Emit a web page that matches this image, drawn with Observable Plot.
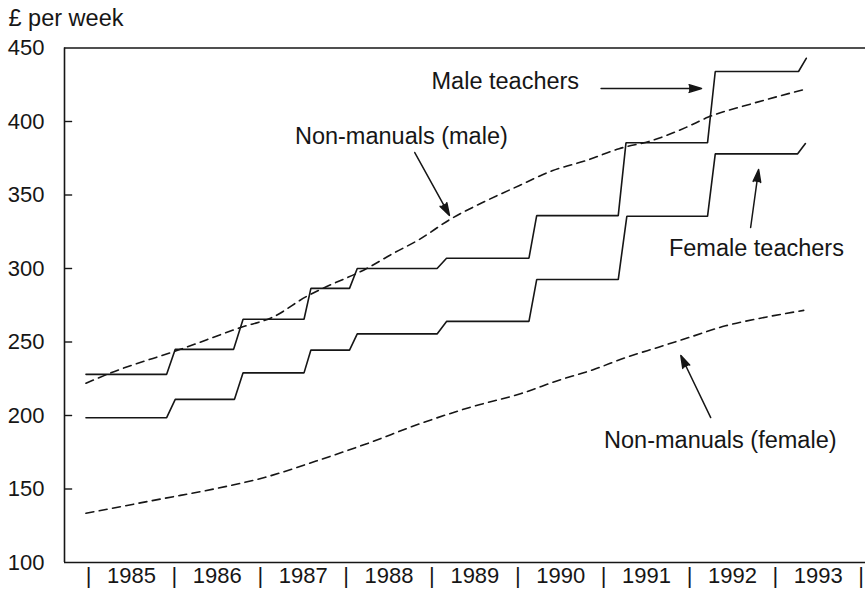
<!DOCTYPE html>
<html>
<head>
<meta charset="utf-8">
<script src="https://cdn.jsdelivr.net/npm/d3@7"></script>
<script src="https://cdn.jsdelivr.net/npm/@observablehq/plot@0.6"></script>
<style>
  body { margin: 0; background: #fff; }
  #chart { width: 865px; height: 589px; }
</style>
</head>
<body>
<div id="chart"></div>
<script>
// ---- Data (decimal years, £ per week) ----
const maleTeachersT = [1984.97, 1985.91, 1986.01, 1986.69, 1986.80, 1987.51, 1987.59, 1988.04, 1988.13, 1989.06, 1989.17, 1990.13, 1990.22, 1991.17, 1991.26, 1992.21, 1992.30, 1993.27, 1993.36];
const maleTeachersV = [228, 228, 245, 245, 265.5, 265.5, 286.5, 286.5, 300, 300, 307, 307, 336, 336, 385.5, 385.5, 434, 434, 443];

const femaleTeachersT = [1984.97, 1985.91, 1986.01, 1986.70, 1986.80, 1987.51, 1987.59, 1988.04, 1988.13, 1989.06, 1989.17, 1990.13, 1990.22, 1991.17, 1991.27, 1992.21, 1992.30, 1993.26, 1993.35];
const femaleTeachersV = [198.5, 198.5, 211, 211, 229, 229, 244.5, 244.5, 255.5, 255.5, 264, 264, 292.5, 292.5, 335.5, 335.5, 378, 378, 385];

const nonManualMaleT = [1984.97, 1985.26, 1986.07, 1986.78, 1987.15, 1987.54, 1987.73, 1988.24, 1988.54, 1988.86, 1989.20, 1989.63, 1990.02, 1990.40, 1990.80, 1991.18, 1991.56, 1991.96, 1992.22, 1992.72, 1993.35];
const nonManualMaleV = [222, 229, 245, 260, 267, 281, 286.5, 300, 310, 320, 333, 346, 356.5, 366.5, 373.5, 381.5, 387, 396, 403, 412, 422];

const nonManualFemaleT = [1984.97, 1985.87, 1986.46, 1987.06, 1987.65, 1988.25, 1988.84, 1989.44, 1990.04, 1990.48, 1990.87, 1991.26, 1991.64, 1991.99, 1992.42, 1992.81, 1993.33];
const nonManualFemaleV = [133.5, 143.5, 150, 158, 169, 181, 194, 205.5, 215, 224, 231, 239.5, 246.5, 253, 261, 266, 271.5];

const yearLabels = [1985, 1986, 1987, 1988, 1989, 1990, 1991, 1992, 1993];
const yearBounds = [1985, 1986, 1987, 1988, 1989, 1990, 1991, 1992, 1993, 1994];
const yTicks = [100, 150, 200, 250, 300, 350, 400, 450];
const unitLabel = "£ per week";

// Annotation labels and arrows (data coordinates)
const labelNames = ["Male teachers", "Non-manuals (male)", "Female teachers", "Non-manuals (female)"];
const labelT = [1988.995, 1987.404, 1991.76, 1991.005];
const labelV = [422.4, 385.0, 308.8, 177.9];

const arrowT1 = [1990.97, 1988.80, 1992.712, 1992.247];
const arrowV1 = [422.4, 378.9, 327.9, 198.6];
const arrowT2 = [1992.14, 1989.204, 1992.805, 1991.899];
const arrowV2 = [422.4, 336.1, 367.3, 240.8];

// ---- Build tables ----
const toRows = (T, V, name) => T.map((t, i) => ({t, v: V[i], series: name}));
const solidRows = [
  ...toRows(maleTeachersT, maleTeachersV, "Male teachers"),
  ...toRows(femaleTeachersT, femaleTeachersV, "Female teachers")
];
const dashedRows = [
  ...toRows(nonManualMaleT, nonManualMaleV, "Non-manuals (male)"),
  ...toRows(nonManualFemaleT, nonManualFemaleV, "Non-manuals (female)")
];
const labels = labelNames.map((name, i) => ({name, t: labelT[i], v: labelV[i]}));
const arrows = arrowT1.map((t1, i) => ({t1, v1: arrowV1[i], t2: arrowT2[i], v2: arrowV2[i]}));

const xDomain = [1984.72, 1994.05];
const ink = "#161616";
const font = "'Liberation Sans', Arial, Helvetica, sans-serif";

const chart = Plot.plot({
  width: 865,
  height: 589,
  marginLeft: 64,
  marginRight: 0,
  marginTop: 47.5,
  marginBottom: 27,
  x: {domain: xDomain, axis: null},
  y: {domain: [100, 450], axis: null},
  style: {fontFamily: font, background: "#fff", color: ink, fontSize: "22px"},
  marks: [
    // frame: top, bottom, left
    Plot.ruleY([yTicks[0], yTicks[yTicks.length - 1]], {stroke: ink, strokeWidth: 1.6}),
    Plot.ruleX([xDomain[0]], {y1: yTicks[0], y2: yTicks[yTicks.length - 1], stroke: ink, strokeWidth: 1.6}),
    // inward y ticks
    Plot.ruleY(yTicks.slice(1, -1), {x1: xDomain[0], x2: xDomain[0] + 0.095, stroke: ink, strokeWidth: 1.4}),
    Plot.axisY({ticks: yTicks, tickSize: 0, tickPadding: 20, fontSize: 22, label: null, tickFormat: d => String(d)}),
    Plot.axisX({ticks: yearLabels.map(y => y + 0.5), tickSize: 0, tickPadding: 5, fontSize: 22, label: null, tickFormat: d => String(Math.floor(d))}),
    Plot.axisX({ticks: yearBounds, tickSize: 0, tickPadding: 5, fontSize: 22, label: null, tickFormat: () => "|"}),
    // series
    Plot.line(solidRows, {x: "t", y: "v", z: "series", stroke: ink, strokeWidth: 1.6, strokeLinejoin: "miter"}),
    Plot.line(dashedRows, {x: "t", y: "v", z: "series", stroke: ink, strokeWidth: 1.6, strokeDasharray: "8,5.5", curve: "monotone-x"}),
    // labels
    Plot.text(labels, {x: "t", y: "v", text: "name", textAnchor: "start", lineAnchor: "bottom", fontSize: 23.5, fill: ink}),
    Plot.arrow(arrows, {x1: "t1", y1: "v1", x2: "t2", y2: "v2", stroke: ink, fill: ink, strokeWidth: 1.5, headLength: 13, headAngle: 34}),
    // unit label
    Plot.text([unitLabel], {frameAnchor: "top-left", dx: -56, dy: -22.5, text: d => d, textAnchor: "start", lineAnchor: "bottom", fontSize: 23.5, fill: ink})
  ]
});
document.getElementById("chart").appendChild(chart);
</script>
</body>
</html>
